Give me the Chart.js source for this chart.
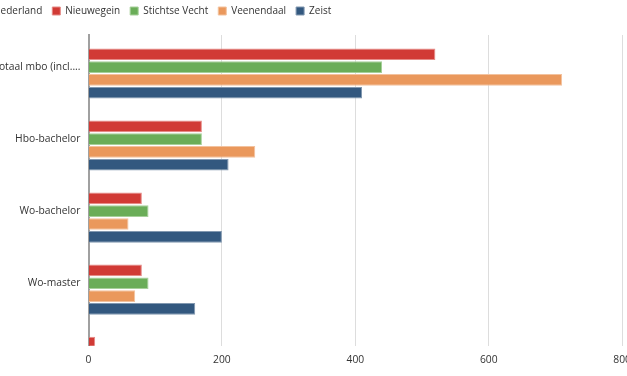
<!DOCTYPE html>
<html lang="nl">
<head>
<meta charset="UTF-8">
<script src="https://cdn.jsdelivr.net/npm/chart.js"></script>
<style>
  html, body { margin: 0; padding: 0; background: #fff; overflow: hidden; }
  #wrap { position: absolute; left: -30px; top: -4px; width: 669px; height: 378px; }
</style>
</head>
<body>
<div id="wrap"><canvas id="chart"></canvas></div>
<script>
// categories (the last group is only partly visible in the chart)
const categories = ['Totaal mbo (incl....', 'Hbo-bachelor', 'Wo-bachelor', 'Wo-master', 'Overig'];

// series
const nederland     = [null, null, null, null, null];
const nieuwegein    = [520, 170, 80, 80, 10];
const stichtseVecht = [440, 170, 90, 90, null];
const veenendaal    = [710, 250, 60, 70, null];
const zeist         = [410, 210, 200, 160, null];

const xTicks = [0, 200, 400, 600, 800];

const toPoints = vals => vals.map((v, i) => ({ x: v, y: i }));

const TICK_FONT = { family: "'Open Sans', sans-serif", size: 10.3 };
const LEGEND_FONT = { family: "'Open Sans', sans-serif", size: 10 };

// extra space under the legend
const legendGap = {
  id: 'legendGap',
  beforeInit(chart) {
    const fit = chart.legend.fit;
    chart.legend.fit = function () {
      fit.bind(chart.legend)();
      this.height += 9;
    };
  }
};

new Chart(document.getElementById('chart'), {
  type: 'bar',
  data: {
    datasets: [
      { label: 'Nederland', data: toPoints(nederland), backgroundColor: '#8c8c8c', borderColor: '#b0b0b0' },
      { label: 'Nieuwegein', data: toPoints(nieuwegein), backgroundColor: '#d13a35', borderColor: '#e58a86' },
      { label: 'Stichtse Vecht', data: toPoints(stichtseVecht), backgroundColor: '#6aad58', borderColor: '#a6d09a' },
      { label: 'Veenendaal', data: toPoints(veenendaal), backgroundColor: '#ea985c', borderColor: '#f3c29e' },
      { label: 'Zeist', data: toPoints(zeist), backgroundColor: '#33587f', borderColor: '#8298b0' }
    ]
  },
  options: {
    indexAxis: 'y',
    responsive: true,
    maintainAspectRatio: false,
    animation: false,
    layout: { padding: 0 },
    datasets: {
      bar: { borderWidth: 1, categoryPercentage: 0.89, barPercentage: 0.91 }
    },
    scales: {
      x: {
        type: 'linear',
        min: xTicks[0],
        max: xTicks[xTicks.length - 1],
        afterBuildTicks: s => { s.ticks = xTicks.map(v => ({ value: v })); },
        grid: { color: '#dddddd', drawTicks: false },
        border: { display: false },
        ticks: { font: TICK_FONT, color: '#333', padding: 8 }
      },
      y: {
        type: 'linear',
        reverse: true,
        offset: false,
        bounds: 'data',
        min: -0.445,
        max: 3.866,
        afterBuildTicks: s => {
          s.ticks = categories.map((c, i) => ({ value: i })).filter(t => t.value <= s.max);
        },
        afterFit: s => { s.width = 118.5; },
        grid: { display: false, drawTicks: false, offset: false },
        border: { display: true, color: '#a0a0a0', width: 2 },
        ticks: { font: TICK_FONT, color: '#333', padding: 8, callback: v => categories[v] }
      }
    },
    plugins: {
      legend: {
        align: 'start',
        labels: { font: LEGEND_FONT, color: '#333', boxWidth: 8, boxHeight: 8, padding: 10 }
      },
      tooltip: { enabled: false }
    }
  },
  plugins: [legendGap]
});
</script>
</body>
</html>
